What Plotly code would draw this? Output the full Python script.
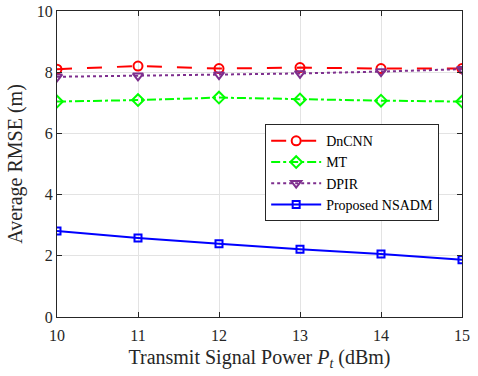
import plotly.graph_objects as go

power = [10, 11, 12, 13, 14, 15]
dncnn = [8.10, 8.20, 8.12, 8.15, 8.12, 8.12]
mt = [7.04, 7.09, 7.17, 7.11, 7.07, 7.04]
dpir = [7.85, 7.88, 7.92, 7.96, 8.02, 8.10]
nsadm = [2.81, 2.58, 2.39, 2.21, 2.06, 1.87]

serif = 'Liberation Serif'

fig = go.Figure()
fig.add_trace(go.Scatter(x=power, y=dncnn, name='DnCNN', mode='lines+markers',
                         line=dict(color='#ff0000', width=2, dash='longdash'),
                         marker=dict(symbol='circle-open', size=9, line=dict(width=2))))
fig.add_trace(go.Scatter(x=power, y=mt, name='MT', mode='lines+markers',
                         line=dict(color='#00ff00', width=2, dash='dashdot'),
                         marker=dict(symbol='diamond-open', size=9, line=dict(width=2))))
fig.add_trace(go.Scatter(x=power, y=dpir, name='DPIR', mode='lines+markers',
                         line=dict(color='#7e2f8e', width=2, dash='dot'),
                         marker=dict(symbol='triangle-down-open', size=9, line=dict(width=2))))
fig.add_trace(go.Scatter(x=power, y=nsadm, name='Proposed NSADM', mode='lines+markers',
                         line=dict(color='#0000ff', width=2),
                         marker=dict(symbol='square-open', size=7, line=dict(width=2))))

axis = dict(showline=True, linecolor='#262626', linewidth=1, mirror='ticks', ticks='inside',
            ticklen=5, tickcolor='#262626', showgrid=True, gridcolor='#e3e3e3', zeroline=False,
            automargin=False, ticklabeloverflow='allow',
            tickfont=dict(family=serif, size=16, color='#262626'))
fig.update_xaxes(axis, range=[10, 15], dtick=1, ticklabelstandoff=4,
                 title=dict(text='Transmit Signal Power <i>P</i><sub><i>t</i></sub> (dBm)',
                            font=dict(family=serif, size=20, color='#262626'), standoff=6))
fig.update_yaxes(axis, range=[0, 10], dtick=2,
                 title=dict(text='Average RMSE (m)', font=dict(family=serif, size=20, color='#262626'),
                            standoff=8))
fig.update_layout(
    width=478, height=376,
    margin=dict(l=57, r=16, t=11, b=59),
    paper_bgcolor='white', plot_bgcolor='white',
    font=dict(family=serif, color='#262626'),
    legend=dict(x=0.514, y=0.63, xanchor='left', yanchor='top', bgcolor='white',
                bordercolor='#262626', borderwidth=1, font=dict(family=serif, size=14, color='black'),
                itemwidth=50, tracegroupgap=0),
    showlegend=True,
)
# drop the default 8px body margin so the canvas sits at the page corner
fig.write_html("out.html", config={'displayModeBar': False},
               post_script="document.body.style.margin='0px';")
